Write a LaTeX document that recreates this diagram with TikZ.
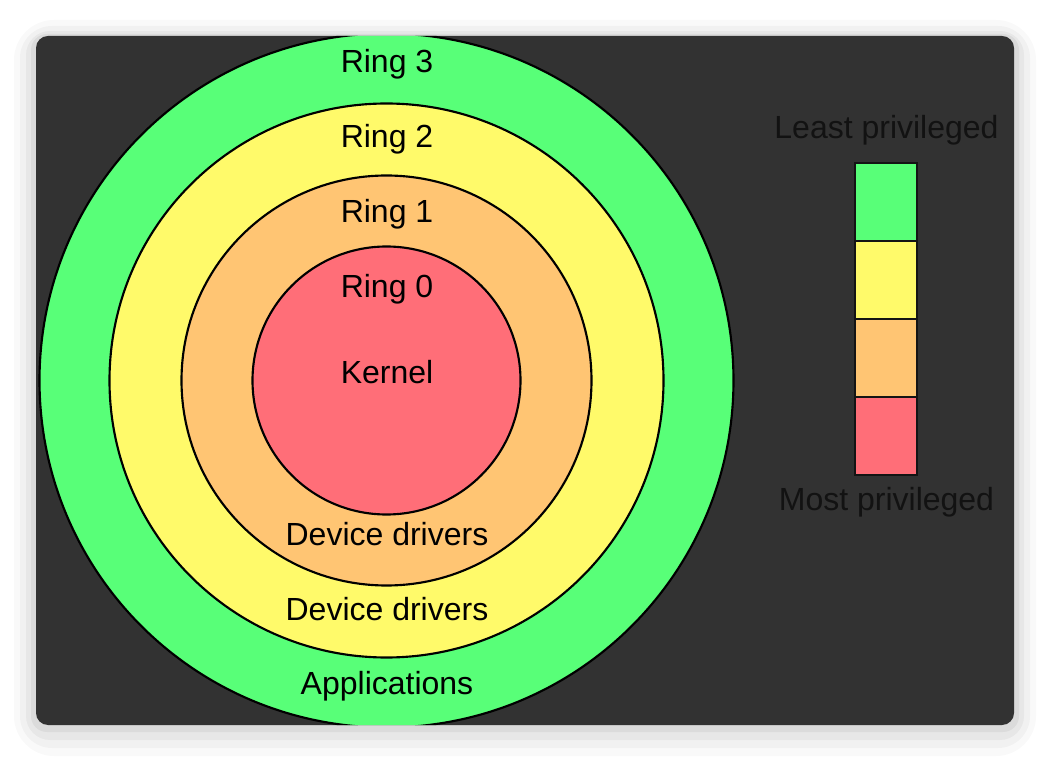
\documentclass[tikz,border=0pt]{standalone}
\usepackage{fontspec}
\setmainfont{Liberation Sans}
\usepackage{tikz}

\definecolor{ringthree}{RGB}{88,255,120}
\definecolor{ringtwo}{RGB}{255,250,106}
\definecolor{ringone}{RGB}{255,197,115}
\definecolor{ringzero}{RGB}{255,110,120}
\definecolor{panelbg}{RGB}{50,50,50}

\begin{document}
\begin{tikzpicture}[x=0.75pt,y=0.75pt,yscale=-1,xscale=1,
  ringline/.style={draw=black,line width=1.6pt},
  ringlabel/.style={anchor=base,inner sep=0pt,text=black,font=\fontsize{24}{28}\selectfont},
  keybox/.style={draw={rgb,255:red,20;green,20;blue,20},line width=1.6pt}]
\useasboundingbox (0,0) rectangle (1050,762);
\fill[white] (0,0) rectangle (1050,762);

%Shape: shadow of the panel
\fill[black,opacity=0.025,rounded corners=30] (14,20) rectangle (1036,756);
\fill[black,opacity=0.03,rounded corners=24] (20,26) rectangle (1030,748);
\fill[black,opacity=0.04,rounded corners=18] (26,31) rectangle (1024,740);
\fill[black,opacity=0.05,rounded corners=12] (31,34) rectangle (1019,732);

%Shape: Panel
\fill[panelbg,rounded corners=9] (36,36) rectangle (1014,725);

%Shape: Rings, clipped to the panel
\begin{scope}
\clip[rounded corners=9] (36,36) rectangle (1014,725);
\draw[ringline,fill=ringthree] (386.5,380.5) circle [radius=347];
\draw[ringline,fill=ringtwo] (386.5,380.5) circle [radius=277];
\draw[ringline,fill=ringone] (386.5,380.5) circle [radius=205];
\draw[ringline,fill=ringzero] (386.5,380.5) circle [radius=134];
\end{scope}

% Text Node
\node[ringlabel] (ring3) at (387,73) {Ring 3};
\node[ringlabel] (ring2) at (387,148) {Ring 2};
\node[ringlabel] (ring1) at (387,223) {Ring 1};
\node[ringlabel] (ring0) at (387,297.5) {Ring 0};
\node[ringlabel] (kernel) at (387,383.5) {Kernel};
\node[ringlabel] (drivers1) at (387,546) {Device drivers};
\node[ringlabel] (drivers2) at (387,620.5) {Device drivers};
\node[ringlabel] (apps) at (387,695) {Applications};

%Shape: Legend bar
\draw[keybox,fill=ringthree] (855,163) rectangle (917,241);
\draw[keybox,fill=ringtwo] (855,241) rectangle (917,319);
\draw[keybox,fill=ringone] (855,319) rectangle (917,397);
\draw[keybox,fill=ringzero] (855,397) rectangle (917,475);

% Text Node
\node[ringlabel,text={rgb,255:red,18;green,18;blue,18}] (least) at (886.5,138.5) {Least privileged};
\node[ringlabel,text={rgb,255:red,18;green,18;blue,18}] (most) at (886.5,510.5) {Most privileged};

\end{tikzpicture}
\end{document}
